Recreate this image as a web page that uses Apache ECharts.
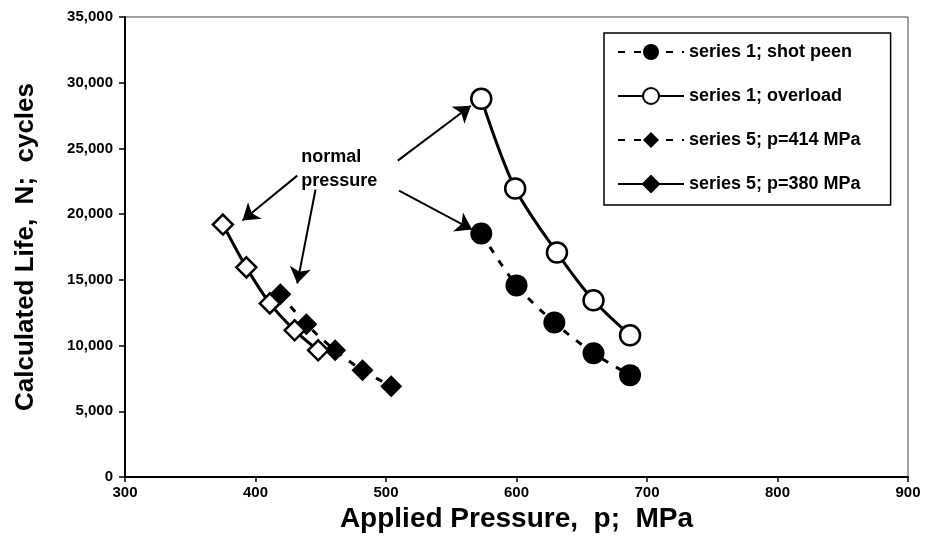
<!DOCTYPE html>
<html>
<head>
<meta charset="utf-8">
<script src="https://cdn.jsdelivr.net/npm/echarts@6/dist/echarts.min.js"></script>
<style>
html,body{margin:0;padding:0;background:#fff;}
#chart{width:928px;height:539px;}
</style>
</head>
<body>
<div id="chart"></div>
<script>
// ---- data ----
var xTicks = [300, 400, 500, 600, 700, 800, 900];
var yTicks = [0, 5000, 10000, 15000, 20000, 25000, 30000, 35000];

var shotPeenP = [573, 600, 629, 659, 687];
var shotPeenN = [18530, 14580, 11750, 9420, 7750];

var overloadP = [573, 599, 631, 659, 687];
var overloadN = [28780, 21950, 17080, 13440, 10780];

var s5p414P = [419, 439, 461, 482, 504];
var s5p414N = [13900, 11620, 9640, 8120, 6910];

var s5p380P = [375, 393, 411, 430, 448];
var s5p380N = [19210, 15950, 13210, 11160, 9640];

var seriesNames = ['series 1; shot peen', 'series 1; overload', 'series 5; p=414 MPa', 'series 5; p=380 MPa'];

// annotation: "normal pressure" text anchor (left edge, middle) and arrows [fromP, fromN, toP, toN]
var noteText = 'normal\npressure';
var noteAnchor = [435, 23400];
var arrows = [
  [432, 22930, 390, 19510],
  [446, 21870, 432, 14730],
  [510, 21790, 566, 18830],
  [509, 24070, 565, 28250]
];

function pairs(xs, ys) { return xs.map(function (x, i) { return [x, ys[i]]; }); }

var FONT = 'Liberation Sans';
var chart = echarts.init(document.getElementById('chart'), null, {renderer: 'canvas'});

var option = {
  animation: false,
  backgroundColor: '#fff',
  textStyle: {fontFamily: FONT, color: '#000'},
  grid: {left: 125, right: 20, top: 17, bottom: 62, show: true, borderColor: '#444', borderWidth: 1},
  legend: {
    orient: 'vertical',
    left: 604,
    top: 33,
    align: 'left',
    padding: [10, 30, 12, 13],
    itemGap: 26,
    itemWidth: 66,
    itemHeight: 20,
    borderColor: '#000',
    borderWidth: 1.5,
    backgroundColor: '#fff',
    textStyle: {fontFamily: FONT, fontWeight: 'bold', fontSize: 18, color: '#000'},
    data: [
      {name: seriesNames[0]},
      {name: seriesNames[1]},
      {name: seriesNames[2]},
      {name: seriesNames[3], itemStyle: {color: '#000'}}
    ]
  },
  xAxis: {
    type: 'value',
    min: xTicks[0], max: xTicks[xTicks.length - 1], interval: 100,
    name: 'Applied Pressure,  p;  MPa',
    nameLocation: 'middle',
    nameGap: 28,
    nameTextStyle: {fontFamily: FONT, fontWeight: 'bold', fontSize: 28, color: '#000'},
    axisLine: {lineStyle: {color: '#000', width: 2}},
    axisTick: {show: true, inside: false, length: 5, lineStyle: {color: '#000', width: 1.5}},
    axisLabel: {fontFamily: FONT, fontWeight: 'bold', fontSize: 15, color: '#000', margin: 8},
    splitLine: {show: false}
  },
  yAxis: {
    type: 'value',
    min: yTicks[0], max: yTicks[yTicks.length - 1], interval: 5000,
    name: 'Calculated Life,  N;  cycles',
    nameLocation: 'middle',
    nameGap: 86,
    nameRotate: 90,
    nameTextStyle: {fontFamily: FONT, fontWeight: 'bold', fontSize: 26, color: '#000'},
    axisLine: {show: true, lineStyle: {color: '#000', width: 2}},
    axisTick: {show: true, inside: false, length: 6, lineStyle: {color: '#000', width: 1.5}},
    axisLabel: {fontFamily: FONT, fontWeight: 'bold', fontSize: 15, color: '#000', margin: 12,
      formatter: function (v) { return echarts.format.addCommas(v); }},
    splitLine: {show: false}
  },
  series: [
    {
      name: seriesNames[0], type: 'line', smooth: 0.3,
      data: pairs(shotPeenP, shotPeenN),
      symbol: 'circle', symbolSize: 22,
      itemStyle: {color: '#000', borderColor: '#000', borderWidth: 0},
      lineStyle: {color: '#000', width: 3, type: [7, 9]},
      z: 3
    },
    {
      name: seriesNames[1], type: 'line', smooth: 0.3,
      data: pairs(overloadP, overloadN),
      symbol: 'circle', symbolSize: 20,
      itemStyle: {color: '#fff', borderColor: '#000', borderWidth: 2.5},
      lineStyle: {color: '#000', width: 3},
      z: 3
    },
    {
      name: seriesNames[2], type: 'line', smooth: 0.3,
      data: pairs(s5p414P, s5p414N),
      symbol: 'diamond', symbolSize: 22,
      itemStyle: {color: '#000', borderColor: '#000', borderWidth: 0},
      lineStyle: {color: '#000', width: 3, type: [7, 9]},
      z: 3
    },
    {
      name: seriesNames[3], type: 'line', smooth: 0.3,
      data: pairs(s5p380P, s5p380N),
      symbol: 'diamond', symbolSize: 20,
      itemStyle: {color: '#fff', borderColor: '#000', borderWidth: 2.5},
      lineStyle: {color: '#000', width: 3},
      z: 4
    },
    {
      name: 'annotation', type: 'line',
      data: [],
      silent: true,
      markLine: {
        silent: true,
        symbol: ['none', 'arrow'],
        symbolSize: 16,
        label: {show: false},
        itemStyle: {color: '#000'},
        lineStyle: {color: '#000', width: 2, type: 'solid', opacity: 1},
        emphasis: {disabled: true},
        data: arrows.map(function (a) { return [{coord: [a[0], a[1]]}, {coord: [a[2], a[3]]}]; })
      },
      z: 2
    }
  ]
};
chart.setOption(option);

// "normal pressure" text placed through the chart's own coordinate conversion
var notePx = chart.convertToPixel({gridIndex: 0}, noteAnchor);
chart.setOption({
  graphic: [{
    type: 'text',
    x: notePx[0], y: notePx[1],
    silent: true,
    style: {
      text: noteText,
      fill: '#000',
      font: 'bold 18px "' + FONT + '"',
      lineHeight: 24,
      align: 'left',
      verticalAlign: 'middle'
    },
    z: 10
  }]
});
</script>
</body>
</html>
